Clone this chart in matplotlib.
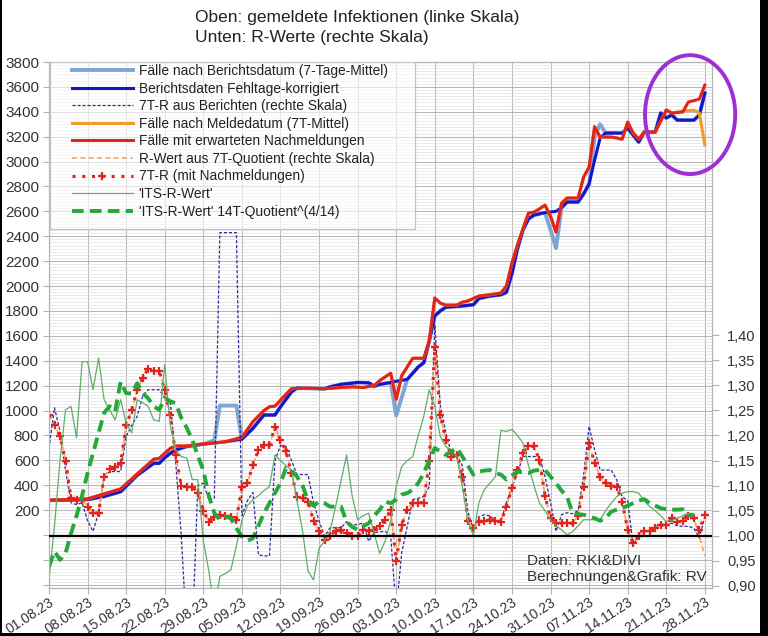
import numpy as np
import matplotlib
matplotlib.use('Agg')
import matplotlib.pyplot as plt
import matplotlib.patches as patches
from matplotlib.ticker import MultipleLocator, FuncFormatter, FixedLocator

plt.rcParams['font.family'] = ['Liberation Sans', 'DejaVu Sans']

# x-Achse: Tage seit 01.08.23
tick_tage = [0, 7, 14, 21, 28, 35, 42, 49, 56, 63, 70, 77, 84, 91, 98, 105, 112, 119]
tick_labels = ['01.08.23', '08.08.23', '15.08.23', '22.08.23', '29.08.23', '05.09.23',
               '12.09.23', '19.09.23', '26.09.23', '03.10.23', '10.10.23', '17.10.23',
               '24.10.23', '31.10.23', '07.11.23', '14.11.23', '21.11.23', '28.11.23']

# Faelle mit erwarteten Nachmeldungen (linke Skala)
rot_tage = [0, 7, 13, 17, 19, 20, 22, 23, 25, 28, 32, 35, 37, 39, 40, 41, 43, 44, 47, 50,
            53, 55, 57, 59, 60, 61, 62, 63, 64, 66, 68, 69, 70, 71, 72, 74, 75, 76, 78, 80,
            82, 83, 84, 85, 86, 87, 88, 89, 90, 91, 92, 93, 94, 96, 97, 98, 99, 100, 102, 103,
            104, 105, 106, 107, 108, 110, 112, 113, 115, 116, 117, 118, 119]
rot_werte = [280, 290, 370, 530, 608, 616, 696, 715, 715, 731, 749, 785, 910, 1000, 1030, 1035, 1130, 1175, 1180, 1175,
             1185, 1190, 1185, 1200, 1240, 1270, 1300, 1090, 1280, 1420, 1420, 1560, 1904, 1863, 1847, 1847, 1870, 1880, 1920, 1930,
             1944, 2000, 2185, 2330, 2460, 2586, 2594, 2620, 2650, 2560, 2433, 2666, 2707, 2707, 2875, 2956, 3280, 3197, 3197, 3190,
             3180, 3317, 3229, 3180, 3237, 3237, 3414, 3390, 3398, 3478, 3490, 3502, 3614]

# Berichtsdaten Fehltage-korrigiert
blau_tage = [0, 7, 10, 13, 16, 19, 20, 21, 22, 23, 25, 28, 32, 35, 37, 39, 41, 42, 44, 45,
             50, 51, 53, 56, 58, 59, 60, 62, 63, 65, 66, 67, 68, 69, 70, 71, 72, 75, 77, 78,
             80, 82, 83, 84, 85, 86, 87, 88, 90, 92, 93, 94, 96, 97, 98, 99, 100, 101, 104, 105,
             106, 107, 108, 110, 111, 112, 113, 114, 117, 118, 119]
blau_werte = [278, 285, 310, 348, 480, 576, 576, 620, 656, 683, 712, 730, 748, 770, 857, 964, 964, 1030, 1150, 1180,
              1175, 1190, 1210, 1225, 1223, 1195, 1210, 1225, 1235, 1250, 1300, 1350, 1384, 1560, 1760, 1800, 1830, 1840, 1850, 1900,
              1920, 1930, 1950, 2100, 2300, 2450, 2540, 2570, 2590, 2600, 2630, 2675, 2675, 2740, 2820, 3012, 3189, 3229, 3229, 3269,
              3213, 3157, 3237, 3237, 3390, 3350, 3375, 3333, 3333, 3373, 3550]

# Faelle nach Berichtsdatum: wie oben, abweichende Tage
hell_tage = [30, 31, 32, 33, 34, 35, 63, 91, 92, 99, 100]
hell_werte = [760, 1040, 1040, 1040, 1040, 770, 960, 2450, 2305, 3200, 3300]

# Faelle nach Meldedatum: wie rot, abweichende Tage am Ende
orange_tage = [115, 116, 117, 118, 119]
orange_werte = [3405, 3410, 3412, 3390, 3135]

# 7T-R (mit Nachmeldungen), ab 01.08.
r_nachmeld = [1.241, 1.221, 1.198, 1.15, 1.075, 1.072, 1.072, 1.058, 1.046, 1.045,
              1.118, 1.133, 1.137, 1.145, 1.22, 1.25, 1.29, 1.315, 1.333, 1.329,
              1.329, 1.29, 1.24, 1.16, 1.10, 1.098, 1.098, 1.085, 1.05, 1.028,
              1.038, 1.042, 1.04, 1.038, 1.032, 1.098, 1.105, 1.141, 1.171, 1.181,
              1.18, 1.217, 1.191, 1.168, 1.125, 1.078, 1.075, 1.068, 1.03, 1.01,
              0.992, 1.0, 1.01, 1.011, 1.006, 1.0, 0.999, 1.012, 1.009, 1.012,
              1.02, 1.032, 1.052, 0.949, 1.022, 1.052, 1.066, 1.066, 1.066, 1.15,
              1.377, 1.24, 1.191, 1.158, 1.161, 1.118, 1.03, 1.015, 1.028, 1.03,
              1.032, 1.03, 1.028, 1.058, 1.095, 1.131, 1.165, 1.179, 1.178, 1.151,
              1.08, 1.035, 1.025, 1.025, 1.025, 1.025, 1.04, 1.098, 1.185, 1.145,
              1.118, 1.105, 1.1, 1.098, 1.068, 1.012, 0.985, 0.999, 1.009, 1.009,
              1.015, 1.022, 1.022, 1.035, 1.028, 1.03, 1.04, 1.035, 1.012, 1.042]

# R-Wert aus 7T-Quotient: wie oben, abweichende Tage
quot_tage = [117, 118, 119]
quot_werte = [1.035, 1.0, 0.96]

# 7T-R aus Berichten
r_berichte = [1.175, 1.255, 1.208, 1.13, 1.066, 1.062, 1.066, 1.03, 1.009, 1.046,
              1.118, 1.128, 1.128, 1.128, 1.198, 1.22, 1.238, 1.278, 1.291, 1.291,
              1.291, 1.275, 1.27, 1.145, 1.0, 0.80, 0.80, 1.10, 1.105, 1.072,
              1.075, 1.604, 1.604, 1.604, 1.604, 1.04, 1.07, 1.086, 0.962, 0.96,
              0.96, 1.15, 1.18, 1.178, 1.15, 1.122, 1.122, 1.122, 1.066, 1.03,
              0.999, 1.016, 1.016, 1.016, 1.028, 1.022, 1.022, 1.026, 0.989, 1.006,
              1.008, 1.009, 1.0, 0.85, 0.966, 1.019, 1.072, 1.075, 1.078, 1.098,
              1.42, 1.26, 1.205, 1.165, 1.161, 1.14, 1.048, 1.012, 1.038, 1.042,
              1.04, 1.03, 1.028, 1.066, 1.098, 1.125, 1.158, 1.158, 1.158, 1.158,
              1.118, 1.066, 1.009, 1.042, 1.046, 1.044, 1.05, 1.12, 1.218, 1.171,
              1.131, 1.131, 1.131, 1.112, 1.078, 1.07, 0.979, 1.006, 1.008, 1.009,
              1.019, 1.019, 1.022, 1.025, 1.02, 1.019, 1.019, 1.015, 0.996, 1.038]

# 'ITS-R-Wert'
its_r = [0.912, 1.02, 1.15, 1.251, 1.258, 1.195, 1.347, 1.347, 1.291, 1.354,
         1.271, 1.251, 1.231, 1.271, 1.225, 1.205, 1.271, 1.265, 1.258, 1.231,
         1.228, 1.341, 1.22, 1.171, 1.158, 1.155, 1.112, 1.112, 0.99, 0.93,
         0.85, 0.919, 0.925, 0.932, 0.98, 1.03, 1.06, 1.072, 1.08, 1.09,
         1.098, 1.161, 1.15, 1.14, 1.131, 1.07, 1.01, 0.93, 0.912, 0.975,
         0.99, 1.01, 1.058, 1.11, 1.161, 1.08, 1.032, 1.04, 1.045, 1.005,
         0.965, 0.99, 1.03, 1.098, 1.138, 1.15, 1.158, 1.2, 1.238, 1.291,
         1.258, 1.198, 1.178, 1.17, 1.158, 1.098, 1.03, 1.0, 1.066, 1.092,
         1.105, 1.118, 1.21, 1.208, 1.212, 1.2, 1.185, 1.14, 1.1, 1.065,
         1.05, 1.032, 1.02, 1.012, 1.002, 1.008, 1.02, 1.032, 1.032, 1.032,
         1.032, 1.05, 1.065, 1.078, 1.085, 1.088, 1.088, 1.085, 1.07, 1.058,
         1.05, 1.04, 1.028, 1.03, 1.035, 1.04, 1.045, 1.042]

# 'ITS-R-Wert' 14T-Quotient^(4/14)
its_14t = [0.939, 0.969, 0.952, 0.965, 1.005, 1.04, 1.08, 1.125, 1.165, 1.205,
           1.245, 1.258, 1.248, 1.307, 1.284, 1.284, 1.304, 1.284, 1.274, 1.258,
           1.251, 1.274, 1.268, 1.264, 1.235, 1.215, 1.191, 1.16, 1.13, 1.08,
           1.045, 1.032, 1.038, 1.035, 1.015, 0.999, 0.99, 0.995, 1.02, 1.045,
           1.065, 1.085, 1.105, 1.135, 1.13, 1.118, 1.1, 1.07, 1.06, 1.068,
           1.065, 1.058, 1.058, 1.058, 1.028, 1.018, 1.012, 1.019, 1.025, 1.04,
           1.052, 1.068, 1.065, 1.072, 1.082, 1.085, 1.092, 1.105, 1.125, 1.15,
           1.175, 1.168, 1.161, 1.168, 1.175, 1.158, 1.14, 1.122, 1.128, 1.13,
           1.131, 1.125, 1.122, 1.112, 1.12, 1.128, 1.126, 1.125, 1.13, 1.131,
           1.131, 1.118, 1.105, 1.09, 1.078, 1.045, 1.043, 1.042, 1.038, 1.035,
           1.03, 1.035, 1.048, 1.052, 1.055, 1.06, 1.065, 1.07, 1.073, 1.065,
           1.06, 1.055, 1.053, 1.052, 1.052, 1.053, 1.042, 1.042]


def mit_abweichungen(tage, werte, neu_tage, neu_werte):
    d = dict(zip(tage, werte))
    d.update(dict(zip(neu_tage, neu_werte)))
    t = sorted(d)
    return t, [d[k] for k in t]


hell_t, hell_v = mit_abweichungen(blau_tage, blau_werte, hell_tage, hell_werte)
orange_t, orange_v = mit_abweichungen(rot_tage, rot_werte, orange_tage, orange_werte)
tage_r = list(range(len(r_nachmeld)))
quot_t, quot_v = mit_abweichungen(tage_r, r_nachmeld, quot_tage, quot_werte)

fig = plt.figure(figsize=(7.68, 6.36), dpi=100)
fig.patch.set_facecolor('black')
fig.patches.append(patches.Rectangle((2 / 768, 3 / 636), 758 / 768, 633 / 636,
                                     transform=fig.transFigure, facecolor='white',
                                     edgecolor='none', zorder=-10))

ax = fig.add_axes([49 / 768, 48 / 636, 663 / 768, 526 / 636])
ax.set_facecolor('white')
ax2 = ax.twinx()

grau = '#b3b3b3'
# linke Skala
l1, = ax.plot(hell_t, hell_v, color='#7fa6d2', lw=2.8, solid_joinstyle='round')
l2, = ax.plot(blau_tage, blau_werte, color='#1515c8', lw=2.2, solid_joinstyle='round')
l4, = ax.plot(orange_t, orange_v, color='#f29a2e', lw=2.2, solid_joinstyle='round')
l5, = ax.plot(rot_tage, rot_werte, color='#e3231e', lw=2.2, solid_joinstyle='round')

ax.set_xlim(0, 120.3)
ax.set_ylim(-426, 3800)
ax.yaxis.set_major_locator(MultipleLocator(200))
ax.yaxis.set_minor_locator(MultipleLocator(25))
ax.yaxis.set_major_formatter(FuncFormatter(lambda v, p: f'{int(v)}' if v > 0 else ''))
ax.set_xticks(tick_tage)
ax.set_xticklabels(tick_labels, rotation=33, ha='right', rotation_mode='anchor',
                   fontsize=10, color='#333333')
ax.tick_params(axis='x', length=4, color=grau, pad=1)
ax.tick_params(axis='y', which='major', length=4, color=grau, labelsize=11, labelcolor='#333333', pad=3)
ax.tick_params(axis='y', which='minor', length=0)
ax.grid(True, which='major', axis='both', color='#b8b8b8', lw=0.8)
ax.grid(True, which='minor', axis='y', color='#e2e2e2', lw=0.5)
ax.set_axisbelow(True)

# rechte Skala
l3, = ax2.plot(tage_r, r_berichte, color='#2b2b9c', lw=0.9, ls=(0, (2.5, 1.5)))
l6, = ax2.plot(quot_t, quot_v, color='#f4a460', lw=1.2, ls=(0, (3, 2)))
l7, = ax2.plot(tage_r, r_nachmeld, color='#e3231e', lw=2.2, ls=(0, (1, 2.2)),
               marker='+', ms=6, mew=1.6)
l8, = ax2.plot(list(range(len(its_r))), its_r, color='#5fae6a', lw=0.9)
l9, = ax2.plot(list(range(len(its_14t))), its_14t, color='#24a83a', lw=2.8, ls=(0, (3, 1.6)))
ax2.axhline(1.0, color='black', lw=1.6, zorder=5)

ax2.set_ylim(0.896, 1.944)
rechts_ticks = [0.90, 0.95, 1.00, 1.05, 1.10, 1.15, 1.20, 1.25, 1.30, 1.35, 1.40]
ax2.yaxis.set_major_locator(FixedLocator(rechts_ticks))
ax2.yaxis.set_major_formatter(FuncFormatter(lambda v, p: f'{v:.2f}'.replace('.', ',')))
ax2.tick_params(axis='y', length=5, color=grau, labelsize=10.5, labelcolor='#333333', pad=6)

for a in (ax, ax2):
    for s in a.spines.values():
        s.set_color(grau)
        s.set_linewidth(0.8)

# Legendenrahmen
ax2.add_patch(patches.Rectangle((1 / 663, (588 - 229) / 526), 365 / 663, 167 / 526,
                                transform=ax2.transAxes, facecolor='white', alpha=0.6,
                                edgecolor='none', zorder=8))
ax2.add_patch(patches.Rectangle((1 / 663, (588 - 229) / 526), 365 / 663, 167 / 526,
                                transform=ax2.transAxes, fill=False,
                                edgecolor='#c4c4c4', lw=0.9, zorder=8))

handles = [l1, l2, l3, l4, l5, l6, l7, l8, l9]
labels = ['Fälle nach Berichtsdatum (7-Tage-Mittel)',
          'Berichtsdaten Fehltage-korrigiert',
          '7T-R aus Berichten (rechte Skala)',
          'Fälle nach Meldedatum (7T-Mittel)',
          'Fälle mit erwarteten Nachmeldungen',
          'R-Wert aus 7T-Quotient (rechte Skala)',
          '7T-R (mit Nachmeldungen)',
          "'ITS-R-Wert'",
          "'ITS-R-Wert' 14T-Quotient^(4/14)"]
leg = ax2.legend(handles, labels, loc='upper left', bbox_to_anchor=(23 / 663, 1 - 2 / 526),
                 borderaxespad=0, fontsize=9.9, handlelength=4.4, handletextpad=0.45,
                 labelspacing=0.26, borderpad=0.0, frameon=False, numpoints=1)
leg.set_zorder(9)
for t in leg.get_texts():
    t.set_color('#222222')

ax2.add_patch(patches.Ellipse((0.967, 0.9), 0.136, 0.226, transform=ax2.transAxes,
                              fill=False, edgecolor='#9c2fd6', lw=2.8, clip_on=False, zorder=10))

ax2.text(0.7205, 0.008, 'Daten: RKI&DIVI\nBerechnungen&Grafik: RV', transform=ax2.transAxes,
         fontsize=11, color='#333333', ha='left', va='bottom', linespacing=1.15)

fig.text(195 / 768, 1 - 10 / 636, 'Oben: gemeldete Infektionen (linke Skala)\nUnten: R-Werte (rechte Skala)',
         fontsize=12.5, color='#222222', ha='left', va='top', linespacing=1.45)

fig.savefig('out.png', dpi=100, facecolor=fig.get_facecolor())
